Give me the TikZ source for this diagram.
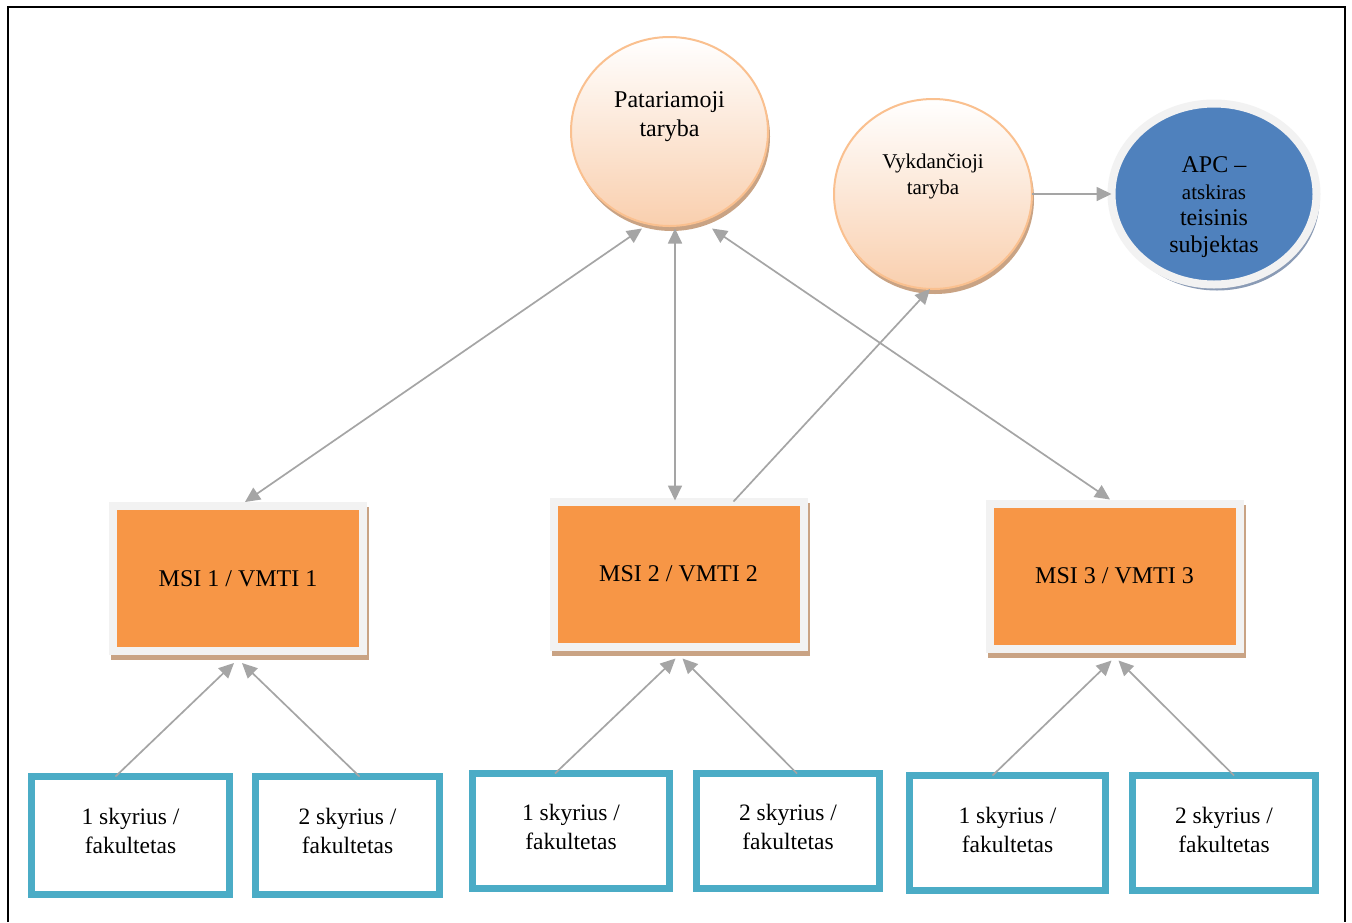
\documentclass[tikz,border=0pt]{standalone}
\usepackage{fontspec}
\setmainfont{Liberation Serif}
\usetikzlibrary{arrows.meta,shapes.geometric,shadows}
\definecolor{orng}{HTML}{F79646}
\definecolor{frm}{HTML}{F2F2F2}
\definecolor{tealc}{HTML}{4BACC6}
\definecolor{blu}{HTML}{4F81BD}
\definecolor{arrgray}{HTML}{A5A5A5}
\definecolor{peach}{HTML}{F9CFAE}
\definecolor{peachline}{HTML}{FAC08F}
\definecolor{shbrown}{HTML}{C9A384}
\definecolor{shblue}{HTML}{8A9BB5}
\begin{document}
\begin{tikzpicture}[x=1pt,y=-1pt,
  every node/.style={outer sep=0pt, inner sep=0pt},
  >={Triangle[length=15pt,width=14pt]},
  conn/.style={draw=arrgray, line width=1.7pt},
  bshadow/.style={drop shadow={shadow xshift=2pt,shadow yshift=-5pt,fill=shbrown,opacity=1}},
  council/.style={ellipse, draw=peachline, line width=2pt, top color=white, bottom color=peach, bshadow},
  msiframe/.style={rectangle, fill=frm, minimum width=258pt, minimum height=153pt, bshadow},
  msicore/.style={rectangle, fill=orng, minimum width=242pt, minimum height=137pt, font=\fontsize{24}{29}\selectfont},
  unit/.style={rectangle, draw=tealc, line width=7pt, fill=white},
  unittxt/.style={align=center, font=\fontsize{23.5}{29}\selectfont},
]
\useasboundingbox[fill=white] (0,0) rectangle (1352,922);
\draw[line width=2pt] (8,922) -- (8,6.5) -- (1345,6.5) -- (1345,922);

% councils
\node[council, minimum width=197pt, minimum height=189pt] (pat) at (669.5,131.5) {};
\node[align=center, font=\fontsize{24}{29}\selectfont] (pattxt) at ([yshift=14.5pt]pat.center) {Patariamoji\\taryba};
\node[council, minimum width=198pt, minimum height=190pt] (vykd) at (933,194) {};
\node[align=center, font=\fontsize{21}{26}\selectfont] (vykdtxt) at ([yshift=18pt]vykd.center) {Vykdančioji\\taryba};
\node[ellipse, draw=frm, line width=8pt, fill=blu, minimum width=205pt, minimum height=181pt,
      drop shadow={shadow xshift=3pt,shadow yshift=-6pt,fill=shblue,opacity=1}] (apc) at (1214,194) {};
\node[align=center, font=\fontsize{24}{26.5}\selectfont] (apctxt) at ([yshift=-13pt]apc.center)
  {APC --\\{\fontsize{21}{26.5}\selectfont atskiras}\\teisinis\\subjektas};

% institutes
\node[msiframe] (msi1) at (238,578.5) {};
\node[msicore] (msi1c) at (msi1.center) {MSI 1 / VMTI 1};
\node[msiframe] (msi2) at (678.5,574) {};
\node[msicore] (msi2c) at (msi2.center) {MSI 2 / VMTI 2};
\node[msiframe] (msi3) at (1114.5,576) {};
\node[msicore] (msi3c) at (msi3.center) {MSI 3 / VMTI 3};

% units
\node[unit, minimum width=198pt, minimum height=118pt] (b1) at (130.5,835.5) {};
\node[unit, minimum width=184pt, minimum height=118pt] (b2) at (347.5,835.5) {};
\node[unit, minimum width=197pt, minimum height=115pt] (b3) at (571,831) {};
\node[unit, minimum width=183pt, minimum height=115pt] (b4) at (788,831) {};
\node[unit, minimum width=196pt, minimum height=115pt] (b5) at (1007.5,833) {};
\node[unit, minimum width=183pt, minimum height=115pt] (b6) at (1224,833) {};
\node[unittxt] (t1) at ([yshift=5pt]b1.center) {1 skyrius /\\fakultetas};
\node[unittxt] (t2) at ([yshift=5pt]b2.center) {2 skyrius /\\fakultetas};
\node[unittxt] (t3) at ([yshift=4pt]b3.center) {1 skyrius /\\fakultetas};
\node[unittxt] (t4) at ([yshift=4pt]b4.center) {2 skyrius /\\fakultetas};
\node[unittxt] (t5) at ([yshift=3pt]b5.center) {1 skyrius /\\fakultetas};
\node[unittxt] (t6) at ([yshift=3pt]b6.center) {2 skyrius /\\fakultetas};

% connectors council <-> institutes
\draw[conn,<->] ([xshift=-27.5pt,yshift=-2.5pt]pat.south) -- ([xshift=7pt]msi1.north);
\draw[conn,<->] ([xshift=-3.5pt,yshift=-2.5pt]pat.south -| msi2.north) -- ([xshift=-3.5pt,yshift=-3pt]msi2.north);
\draw[conn,<->] ([xshift=42.5pt,yshift=-2.5pt]pat.south) -- ([xshift=-4.5pt]msi3.north);
\draw[conn,->] ([xshift=55pt,yshift=-4pt]msi2.north) -- ([xshift=-3pt]vykd.south);
\draw[conn,->] (vykd.east) -- (apc.west);

% units -> institutes
\draw[conn,->] ([xshift=-15pt]b1.north) -- ([xshift=-4pt,yshift=-8pt]msi1.south);
\draw[conn,->] ([xshift=12pt]b2.north) -- ([xshift=4pt,yshift=-8pt]msi1.south);
\draw[conn,->] ([xshift=-16pt]b3.north) -- ([xshift=-3pt,yshift=-8pt]msi2.south);
\draw[conn,->] ([xshift=9pt]b4.north) -- ([xshift=4pt,yshift=-8pt]msi2.south);
\draw[conn,->] ([xshift=-15pt]b5.north) -- ([xshift=-3pt,yshift=-8pt]msi3.south);
\draw[conn,->] ([xshift=10pt]b6.north) -- ([xshift=4pt,yshift=-8pt]msi3.south);
\end{tikzpicture}
\end{document}
